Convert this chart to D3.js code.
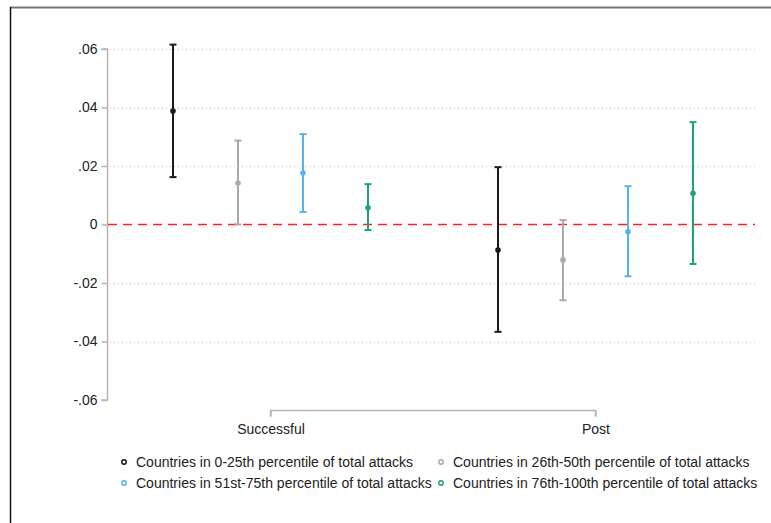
<!DOCTYPE html>
<html>
<head>
<meta charset="utf-8">
<script src="https://cdn.jsdelivr.net/npm/d3@7"></script>
<style>
  body { margin: 0; background: #fff; }
  text { font-family: "Liberation Sans", Arial, sans-serif; fill: #222; }
</style>
</head>
<body>
<script>
// data
var periods = ["Successful", "Post"];
var groups = [
  "Countries in 0-25th percentile of total attacks",
  "Countries in 26th-50th percentile of total attacks",
  "Countries in 51st-75th percentile of total attacks",
  "Countries in 76th-100th percentile of total attacks"
];
var groupColors = ["#1a1a1a", "#aaaaaa", "#56b4e9", "#1fa37a"];
// estimates per group, [Successful, Post]
var estimate = [[0.0388, -0.0087], [0.0142, -0.0121], [0.0176, -0.0025], [0.0057, 0.0107]];
var ciLow = [[0.0162, -0.0367], [0.0000, -0.0259], [0.0043, -0.0177], [-0.0019, -0.0135]];
var ciHigh = [[0.0615, 0.0196], [0.0287, 0.0015], [0.0309, 0.0131], [0.0138, 0.0350]];
var yTicks = [-0.06, -0.04, -0.02, 0, 0.02, 0.04, 0.06];
var gridTicks = [-0.04, -0.02, 0.02, 0.04, 0.06];

var svgWidth = 771;
var svgHeight = 523;

var svg = d3.select("body")
  .append("svg")
  .attr("width", svgWidth)
  .attr("height", svgHeight);

// outer frame (cropped graph region)
svg.append("line").attr("x1", 10).attr("x2", svgWidth).attr("y1", 7.5).attr("y2", 7.5)
  .attr("stroke", "#777").attr("stroke-width", 2);
svg.append("line").attr("x1", 10.5).attr("x2", 10.5).attr("y1", 7).attr("y2", svgHeight)
  .attr("stroke", "#111").attr("stroke-width", 1.5);

// scales
var yScale = d3.scaleLinear()
  .domain([-0.06, 0.06])
  .range([400, 49]);

var xScale = d3.scalePoint()
  .domain(periods)
  .range([270.5, 595.5]);

var offset = d3.scalePoint()
  .domain(d3.range(groups.length))
  .range([-97.5, 97.5]);

function fmt(d) {
  if (d === 0) return "0";
  return (d < 0 ? "-" : "") + d3.format(".2f")(Math.abs(d)).replace("0.", ".");
}

// gridlines
svg.append("g")
  .selectAll("line")
  .data(gridTicks)
  .enter().append("line")
  .attr("x1", 110).attr("x2", 755)
  .attr("y1", function(d) { return Math.round(yScale(d)) + 0.5; })
  .attr("y2", function(d) { return Math.round(yScale(d)) + 0.5; })
  .attr("stroke", "#c8c8c8")
  .attr("stroke-dasharray", "1,3");

// y axis
var yAxis = d3.axisLeft(yScale)
  .tickValues(yTicks)
  .tickFormat(fmt)
  .tickSize(6)
  .tickPadding(4);

var yG = svg.append("g")
  .attr("transform", "translate(107.5,0)")
  .call(yAxis);
yG.select(".domain").attr("stroke", "#b5b5b5").attr("stroke-width", 1.5)
  .attr("d", "M-6," + yScale(0.06) + "H0V" + yScale(-0.06) + "H-6");
yG.selectAll(".tick line").attr("stroke", "#b5b5b5").attr("stroke-width", 1.5);
yG.selectAll(".tick text").style("font-size", "14px")
  .style("font-family", "'Liberation Sans', Arial, sans-serif").attr("fill", "#222");

// zero reference line
svg.append("line")
  .attr("x1", 108).attr("x2", 755)
  .attr("y1", yScale(0)).attr("y2", yScale(0))
  .attr("stroke", "#ff2020")
  .attr("stroke-width", 1.5)
  .attr("stroke-dasharray", "9,6");

// x axis
var xAxis = d3.axisBottom(xScale)
  .tickSize(6)
  .tickPadding(8);

var xG = svg.append("g")
  .attr("transform", "translate(0,410.5)")
  .call(xAxis);
xG.select(".domain").attr("stroke", "#b5b5b5").attr("stroke-width", 1.5)
  .attr("d", "M" + xScale("Successful") + ",6V0H" + xScale("Post") + "V6");
xG.selectAll(".tick line").attr("stroke", "#b5b5b5").attr("stroke-width", 1.5);
xG.selectAll(".tick text").style("font-size", "14px")
  .style("font-family", "'Liberation Sans', Arial, sans-serif").attr("fill", "#222");

// error bars and points
var rows = [];
groups.forEach(function(g, gi) {
  periods.forEach(function(p, pi) {
    rows.push({ g: gi, p: p, est: estimate[gi][pi], lo: ciLow[gi][pi], hi: ciHigh[gi][pi] });
  });
});

var marks = svg.append("g")
  .selectAll("g")
  .data(rows)
  .enter().append("g")
  .attr("transform", function(d) { return "translate(" + (xScale(d.p) + offset(d.g)) + ",0)"; })
  .attr("stroke", function(d) { return groupColors[d.g]; })
  .attr("fill", function(d) { return groupColors[d.g]; });

marks.append("line")
  .attr("x1", 0).attr("x2", 0)
  .attr("y1", function(d) { return yScale(d.lo); })
  .attr("y2", function(d) { return yScale(d.hi); })
  .attr("stroke-width", 2);

marks.selectAll(".cap")
  .data(function(d) { return [d.lo, d.hi]; })
  .enter().append("line")
  .attr("class", "cap")
  .attr("x1", -3.5).attr("x2", 3.5)
  .attr("y1", function(v) { return yScale(v); })
  .attr("y2", function(v) { return yScale(v); })
  .attr("stroke-width", 2);

marks.append("circle")
  .attr("cx", 0)
  .attr("cy", function(d) { return yScale(d.est); })
  .attr("r", 2.8)
  .attr("stroke", "none");

// legend
var legendX = [124, 441];
var legendY = [462, 483];
var legend = svg.append("g")
  .selectAll("g")
  .data(groups)
  .enter().append("g")
  .attr("transform", function(d, i) { return "translate(" + legendX[i % 2] + "," + legendY[Math.floor(i / 2)] + ")"; });

legend.append("circle")
  .attr("r", 2.2)
  .attr("fill", "none")
  .attr("stroke", function(d, i) { return groupColors[i]; })
  .attr("stroke-width", 1.5);

legend.append("text")
  .attr("x", 12)
  .attr("dy", "0.35em")
  .style("font-size", "14px")
  .text(function(d) { return d; });
</script>
</body>
</html>
